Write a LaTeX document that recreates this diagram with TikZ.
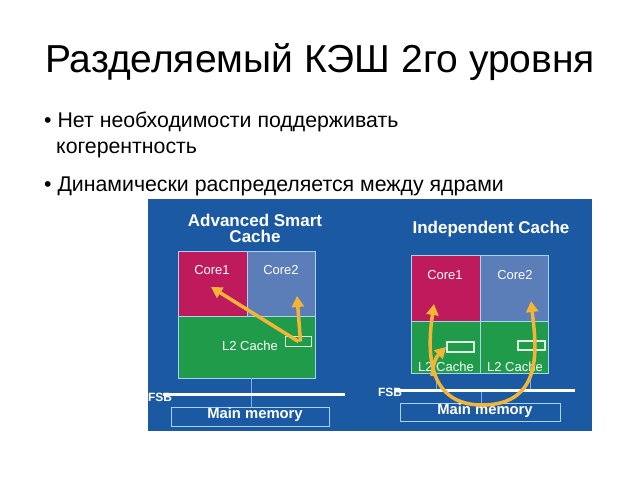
\documentclass[tikz,border=0pt]{standalone}
\usepackage{fontspec}
\setmainfont{Liberation Sans}
\usetikzlibrary{arrows.meta}
\definecolor{panelblue}{HTML}{1B5AA3}
\definecolor{coreone}{HTML}{BF1A5C}
\definecolor{coretwo}{HTML}{5B7DB8}
\definecolor{cachegreen}{HTML}{1F9B4A}
\definecolor{boxline}{HTML}{A8D4F2}
\definecolor{busline}{HTML}{7FB2E2}
\definecolor{flow}{HTML}{F4B436}

\begin{document}
\begin{tikzpicture}[x=1pt, y=-1pt,
    cell/.style={draw=boxline, line width=0.9pt, inner sep=0pt},
    slot/.style={draw=white!85!cachegreen, line width=1.8pt, inner sep=0pt, minimum width=26, minimum height=10},
    celltext/.style={text=white, font=\fontsize{13}{14}\selectfont, inner sep=0pt},
    heading/.style={text=white, font=\bfseries\fontsize{17}{18}\selectfont, align=center, inner sep=0pt},
    memtext/.style={text=white, font=\bfseries\fontsize{14.8}{16}\selectfont, inner sep=0pt},
    bustext/.style={text=white, font=\bfseries\fontsize{12}{13}\selectfont, inner sep=0pt},
    bullet/.style={anchor=base west, font=\fontsize{21.3}{23}\selectfont, inner sep=0pt},
    bus/.style={draw=busline, line width=0.8pt},
    fsb/.style={draw=white, line width=3pt},
    flowarrow/.style={draw=flow, line width=3.5pt, -{Triangle[width=12pt,length=11pt]}}]

    \useasboundingbox (0,0) rectangle (640,480);

    % title and bullets
    \node[font=\fontsize{39}{40}\selectfont, inner sep=0pt] (title) at (320,62) {Разделяемый КЭШ 2го уровня};
    \node[bullet] (pointA) at (44,127) {• Нет необходимости поддерживать};
    \node[bullet] (pointB) at (56,153) {когерентность};
    \node[bullet] (pointC) at (44,191) {• Динамически распределяется между ядрами};

    % blue panel
    \fill[panelblue] (148,199) rectangle (592,431);

    % advanced smart cache
    \node[heading] (shTitle) at (255,228) {Advanced Smart\\[-2pt]Cache};
    \node[cell, fill=cachegreen, minimum width=137, minimum height=62] (shL2) at (246.5,347) {};
    \node[cell, fill=coreone, minimum width=69, minimum height=65] (shC1) at (212.5,283.5) {};
    \node[cell, fill=coretwo, minimum width=68, minimum height=65] (shC2) at (281,283.5) {};
    \node[celltext] (shC1t) at (212,270) {Core1};
    \node[celltext] (shC2t) at (281,270) {Core2};
    \node[celltext] (shL2t) at (250,346) {L2 Cache};
    \node[slot] (shSlot) at (298.5,341.5) {};
    \node[cell, minimum width=158, minimum height=19] (shMem) at (250,416.5) {};
    \node[memtext] (shMemt) at (255,415) {Main memory};
    \coordinate (shBusL) at (163,394);
    \coordinate (shBusR) at (345,394);
    \draw[bus] (shL2.south -| 251,0) -- (shMem.north -| 251,0);
    \draw[fsb] (shBusL) -- (shBusR);
    \node[bustext] (shFsb) at (160,397) {FSB};
    \coordinate (shTipA) at (211,287);
    \coordinate (shTipB) at (297,296);
    \draw[flowarrow] (shSlot.center) -- (shTipA);
    \draw[flowarrow] ([xshift=2pt]shSlot.center) -- (shTipB);

    % independent cache
    \node[heading] (inTitle) at (491,229) {Independent Cache};
    \node[cell, fill=coreone, minimum width=69, minimum height=66] (inC1) at (445.5,288) {};
    \node[cell, fill=coretwo, minimum width=68, minimum height=66] (inC2) at (514,288) {};
    \node[cell, fill=cachegreen, minimum width=69, minimum height=52] (inL2a) at (445.5,347) {};
    \node[cell, fill=cachegreen, minimum width=68, minimum height=52] (inL2b) at (514,347) {};
    \node[celltext] (inC1t) at (445,275) {Core1};
    \node[celltext] (inC2t) at (515,275) {Core2};
    \node[celltext] (inL2at) at (446,367) {L2 Cache};
    \node[celltext] (inL2bt) at (515,367) {L2 Cache};
    \node[slot, minimum width=27] (inSlotA) at (460.5,347) {};
    \node[slot, minimum width=27, minimum height=9] (inSlotB) at (531.5,345.5) {};
    \node[cell, minimum width=160, minimum height=18] (inMem) at (480,412) {};
    \node[memtext] (inMemt) at (485,411) {Main memory};
    \coordinate (inBusL) at (395,390);
    \coordinate (inBusR) at (575,390);
    \foreach \xpos in {436,530}
        \draw[bus] (inL2a.south -| \xpos,0) -- (inBusL -| \xpos,0);
    \draw[bus] (inBusL -| 481,0) -- (inMem.north -| 481,0);
    \draw[fsb] (inBusL) -- (inBusR);
    \node[bustext] (inFsb) at (390,392) {FSB};
    \coordinate (inLoop) at (482,405);
    \coordinate (inTipA) at (434,304);
    \coordinate (inTipB) at (531,301);
    \coordinate (inFork) at (432,376);
    \draw[flowarrow] (inLoop) .. controls (424,405) and (428,345) .. (inTipA);
    \draw[flowarrow] (inLoop) .. controls (545,405) and (536,345) .. (inTipB);
    \draw[flowarrow] (inFork) .. controls (433,362) and (437,356) .. (inSlotA.west);
\end{tikzpicture}
\end{document}
